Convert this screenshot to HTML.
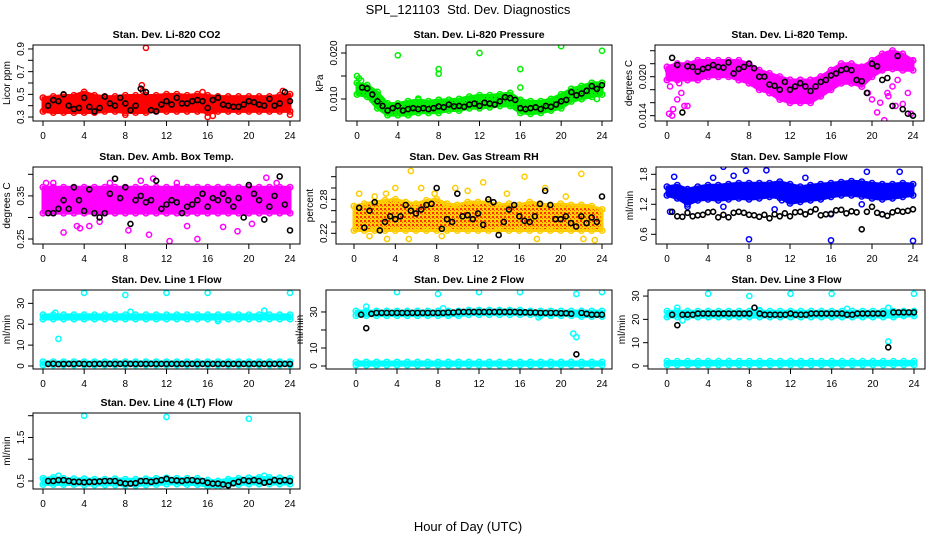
<!DOCTYPE html>
<html><head><meta charset="utf-8"><title>SPL_121103 Std. Dev. Diagnostics</title>
<style>
html,body{margin:0;padding:0;background:#fff;}
svg{display:block;font-family:"Liberation Sans",Arial,sans-serif;}
</style></head>
<body>
<svg id="chart" width="936" height="540" viewBox="0 0 936 540">
<defs>
<pattern id="pat-green" width="4" height="4" patternUnits="userSpaceOnUse"><rect width="4" height="4" fill="#00ee00"/><rect x="1" y="1" width="1" height="1" fill="#005500"/></pattern>
<pattern id="pat-rh" width="4" height="4" patternUnits="userSpaceOnUse"><rect width="4" height="4" fill="#ffd000"/><rect x="0" y="0" width="2" height="2" fill="#ff3000"/><rect x="2" y="2" width="1" height="1" fill="#ff5000"/></pattern>
</defs>
<text x="468" y="14" text-anchor="middle" font-size="13">SPL_121103&#160; Std. Dev. Diagnostics</text>
<text x="468" y="531" text-anchor="middle" font-size="13">Hour of Day (UTC)</text>
</svg>
<script>
const HOURS=[0.5,1,1.5,2,2.5,3,3.5,4,4.5,5,5.5,6,6.5,7,7.5,8,8.5,9,9.5,10,10.5,11,11.5,12,12.5,13,13.5,14,14.5,15,15.5,16,16.5,17,17.5,18,18.5,19,19.5,20,20.5,21,21.5,22,22.5,23,23.5,24];
const BAND_HOURS=[0,1,2,3,4,5,6,7,8,9,10,11,12,13,14,15,16,17,18,19,20,21,22,23,24];
const X_TICKS=[0,4,8,12,16,20,24];

// CO2
const CO2_LO=[0.35,0.34,0.34,0.34,0.34,0.34,0.35,0.35,0.34,0.34,0.34,0.35,0.35,0.35,0.35,0.35,0.34,0.35,0.35,0.35,0.35,0.35,0.35,0.35,0.35];
const CO2_HI=[0.47,0.48,0.49,0.49,0.52,0.49,0.48,0.48,0.49,0.49,0.49,0.49,0.50,0.50,0.49,0.50,0.49,0.48,0.48,0.48,0.48,0.48,0.48,0.49,0.50];
const CO2_OUT_X=[10,9.6,9.7,16,16.5,24,23.3,8,15.5];
const CO2_OUT_Y=[0.91,0.58,0.53,0.30,0.31,0.32,0.53,0.32,0.52];
const CO2_BLACK=[0.40,0.45,0.44,0.50,0.40,0.37,0.38,0.47,0.39,0.35,0.38,0.48,0.42,0.40,0.47,0.42,0.36,0.40,0.55,0.52,0.36,0.35,0.41,0.44,0.41,0.47,0.42,0.42,0.44,0.45,0.44,0.38,0.45,0.47,0.41,0.40,0.39,0.39,0.41,0.44,0.43,0.41,0.40,0.46,0.40,0.42,0.52,0.44];
const CO2_TICKS=[0.3,0.4,0.5,0.6,0.7,0.8,0.9];
const CO2_LABELS=["0.3","","0.5","","0.7","","0.9"];

// Pressure
const PR_LO=[0.0110,0.0105,0.0080,0.0065,0.0065,0.0065,0.0070,0.0070,0.0070,0.0075,0.0075,0.0080,0.0080,0.0082,0.0085,0.0085,0.0070,0.0068,0.0070,0.0075,0.0080,0.0095,0.0100,0.0105,0.0110];
const PR_HI=[0.0135,0.0130,0.0115,0.0090,0.0090,0.0095,0.0098,0.0095,0.0098,0.0098,0.0100,0.0105,0.0108,0.0108,0.0110,0.0113,0.0098,0.0095,0.0095,0.0100,0.0110,0.0122,0.0128,0.0135,0.0135];
const PR_OUT_X=[4,8,8,12,16,16,20,24,0,0.2,23.5,6,0.4];
const PR_OUT_Y=[0.0195,0.0165,0.0155,0.0200,0.0165,0.0125,0.0215,0.0205,0.0150,0.0145,0.0100,0.0101,0.0140];
const PR_BLACK=[0.0125,0.0123,0.0110,0.0095,0.0085,0.0075,0.0080,0.0085,0.0075,0.0078,0.0080,0.0078,0.0080,0.0078,0.0080,0.0084,0.0082,0.0088,0.0084,0.0085,0.0083,0.0088,0.0090,0.0085,0.0092,0.0090,0.0088,0.0095,0.0104,0.0102,0.0098,0.0080,0.0078,0.0080,0.0082,0.0078,0.0085,0.0083,0.0088,0.0095,0.0098,0.0115,0.0108,0.0112,0.0118,0.0128,0.0122,0.0130];
const PR_TICKS=[0.010,0.015,0.020];
const PR_LABELS=["0.010","","0.020"];

// Li-820 Temp
const TP_LO=[0.0195,0.0195,0.0195,0.0195,0.0200,0.0200,0.0200,0.0195,0.0190,0.0180,0.0175,0.0165,0.0160,0.0160,0.0160,0.0170,0.0180,0.0190,0.0190,0.0185,0.0200,0.0210,0.0212,0.0210,0.0210];
const TP_HI=[0.0215,0.0220,0.0220,0.0225,0.0225,0.0225,0.0225,0.0225,0.0220,0.0210,0.0205,0.0200,0.0195,0.0195,0.0195,0.0200,0.0210,0.0220,0.0220,0.0215,0.0225,0.0235,0.0240,0.0235,0.0225];
const TP_OUT_X=[0.2,0.3,0.6,1,1.4,1.7,2,0.5,20,20.5,20.8,21.2,21.5,21.6,22,22.3,23,23.5,23.8,24,19.6,22.5,0.1,1.2];
const TP_OUT_Y=[0.0143,0.0185,0.0150,0.0165,0.0175,0.0155,0.0155,0.0140,0.0165,0.0145,0.0160,0.0133,0.0175,0.0170,0.0185,0.0155,0.0158,0.0175,0.0143,0.0225,0.0175,0.0195,0.0210,0.0190];
const TP_BLACK=[0.0229,0.0218,0.0145,0.0216,0.0215,0.0208,0.0212,0.0214,0.0218,0.0215,0.0214,0.0222,0.0205,0.0212,0.0215,0.0220,0.0213,0.0200,0.0200,0.0188,0.0186,0.0180,0.0192,0.0180,0.0185,0.0190,0.0185,0.0178,0.0185,0.0192,0.0195,0.0202,0.0205,0.0210,0.0212,0.0210,0.0195,0.0193,0.0175,0.0220,0.0216,0.0195,0.0198,0.0155,0.0232,0.0150,0.0143,0.0140];
const TP_TICKS=[0.014,0.016,0.018,0.020,0.022,0.024];
const TP_LABELS=["0.014","","","0.020","",""];

// Amb box temp
const AB_LO=[0.31,0.31,0.31,0.31,0.31,0.31,0.31,0.31,0.31,0.31,0.31,0.31,0.31,0.31,0.31,0.31,0.31,0.31,0.31,0.31,0.31,0.31,0.31,0.31,0.31];
const AB_HI=[0.37,0.37,0.37,0.37,0.37,0.37,0.37,0.37,0.37,0.37,0.37,0.37,0.37,0.37,0.37,0.37,0.37,0.37,0.37,0.37,0.37,0.37,0.37,0.37,0.37];
const AB_OUT_X=[2,3.3,4.5,8.3,10.3,12.3,15,18.9,21.7,13,10.7,1,6.5,22.7,5.5,17.5,14,0.3,9.5,20.3,3.6];
const AB_OUT_Y=[0.265,0.28,0.28,0.27,0.26,0.245,0.25,0.268,0.392,0.38,0.39,0.38,0.38,0.38,0.29,0.278,0.28,0.38,0.385,0.285,0.275];
const AB_BLACK=[0.31,0.31,0.32,0.34,0.32,0.37,0.34,0.315,0.365,0.31,0.30,0.31,0.355,0.39,0.345,0.37,0.285,0.34,0.35,0.335,0.34,0.385,0.32,0.33,0.34,0.335,0.31,0.325,0.33,0.34,0.355,0.325,0.345,0.34,0.355,0.34,0.325,0.345,0.30,0.375,0.355,0.34,0.295,0.325,0.35,0.395,0.33,0.27];
const AB_TICKS=[0.25,0.30,0.35,0.40];
const AB_LABELS=["0.25","","0.35",""];

// RH
const RH_LO=[0.225,0.225,0.225,0.225,0.225,0.225,0.225,0.225,0.225,0.225,0.225,0.225,0.225,0.225,0.225,0.225,0.225,0.225,0.225,0.225,0.225,0.225,0.225,0.225,0.225];
const RH_HI=[0.268,0.272,0.275,0.278,0.280,0.275,0.272,0.278,0.280,0.272,0.270,0.275,0.275,0.275,0.270,0.272,0.270,0.275,0.272,0.270,0.272,0.270,0.270,0.268,0.262];
const RH_OUT_X=[5.5,16.5,22,12.5,4,3.1,0.5,6.5,1.5,3.2,5.3,8.5,17.7,22.2,23.3,18.5,14.8,11,9.8,7.8,2,20.5];
const RH_OUT_Y=[0.33,0.32,0.325,0.31,0.30,0.29,0.29,0.30,0.215,0.210,0.21,0.215,0.21,0.21,0.208,0.30,0.29,0.295,0.30,0.29,0.285,0.285];
const RH_BLACK=[0.265,0.230,0.260,0.275,0.225,0.240,0.250,0.245,0.250,0.270,0.260,0.255,0.262,0.270,0.272,0.300,0.228,0.245,0.240,0.290,0.250,0.252,0.245,0.255,0.235,0.280,0.275,0.217,0.240,0.262,0.270,0.250,0.242,0.240,0.250,0.272,0.295,0.270,0.245,0.245,0.250,0.238,0.232,0.250,0.238,0.248,0.240,0.285];
const RH_TICKS=[0.22,0.24,0.26,0.28,0.30,0.32];
const RH_LABELS=["0.22","","","0.28","",""];

// Sample flow
const SF_LO=[1.38,1.32,1.20,1.28,1.30,1.28,1.30,1.32,1.30,1.32,1.35,1.33,1.22,1.25,1.28,1.30,1.35,1.38,1.38,1.36,1.32,1.30,1.32,1.35,1.38];
const SF_HI=[1.55,1.58,1.50,1.55,1.58,1.58,1.60,1.62,1.62,1.62,1.62,1.65,1.60,1.55,1.58,1.60,1.62,1.64,1.66,1.65,1.62,1.60,1.60,1.62,1.60];
const SF_OUT_X=[5.5,9.7,7.7,22.7,19.5,0.7,6.5,8,16,24,0.3,16,21,10.5,2,5.5,19,4.5,13.5,11.2];
const SF_OUT_Y=[1.95,1.88,1.87,1.85,1.85,1.75,1.77,0.50,0.48,0.47,1.05,1.00,1.00,1.10,1.15,1.15,1.20,1.73,1.73,1.28];
const SF_BLACK=[1.05,0.96,0.95,1.03,0.96,0.98,0.99,1.04,1.05,0.94,0.99,0.94,1.03,1.05,1.03,0.99,0.98,0.95,0.99,0.92,1.00,0.96,1.02,0.96,1.04,1.05,1.00,1.05,1.10,0.98,1.00,1.01,1.08,1.09,1.02,1.06,1.04,0.70,1.05,1.15,1.03,1.00,0.97,1.04,1.07,1.05,1.07,1.10];
const SF_TICKS=[0.6,0.9,1.2,1.5,1.8];
const SF_LABELS=["0.6","","1.2","","1.8"];

// Line 1
const L1_LO=[22.5,22.5,22.5,22.5,22.5,22.5,22.5,22.5,22.5,22.5,22.5,22.5,22.5,22.5,22.5,22.5,22.5,22.5,22.5,22.5,22.5,22.5,22.5,22.5,22.5];
const L1_HI=[24.5,24.5,24.5,24.5,24.5,24.5,24.5,24.5,24.5,24.5,24.5,24.5,24.5,24.5,24.5,24.5,24.5,24.5,24.5,24.5,24.5,24.5,24.5,24.5,24.5];
const L1_LO2=[0.5,0.5,0.5,0.5,0.5,0.5,0.5,0.5,0.5,0.5,0.5,0.5,0.5,0.5,0.5,0.5,0.5,0.5,0.5,0.5,0.5,0.5,0.5,0.5,0.5];
const L1_HI2=[2,2,2,2,2,2,2,2,2,2,2,2,2,2,2,2,2,2,2,2,2,2,2,2,2];
const L1_OUT_X=[4,8,12,16,24,1.5,8.5,21.5,1.2,17];
const L1_OUT_Y=[35,34,35,35,35,13,26,26.5,25.5,21.5];
const L1_BLACK=[1.0,1.1,0.9,1.0,1.0,1.0,1.1,1.0,0.9,1.0,1.0,1.0,1.0,1.0,1.0,1.1,1.0,1.0,1.0,1.0,1.0,1.0,1.0,1.0,1.0,1.0,1.0,1.0,1.0,1.0,1.0,1.0,1.0,1.0,1.0,1.0,1.0,1.0,1.0,1.0,1.0,1.0,1.0,1.0,1.0,1.0,1.0,1.0];
const L1_TICKS=[0,10,20,30];
const L1_LABELS=["0","10","20","30"];

// Line 2
const L2_LO=[28,28,28,28,28,28,28,28,28,28,28,28.5,28.5,28.5,28.5,28.5,28.5,28.5,28,28,28,28,27.5,27.5,27.5];
const L2_HI=[30.5,30.5,30.5,30.5,30.5,30.5,30.5,30.5,30.5,30.5,30.5,31,31,31,31,31,31,30.5,30.5,30.5,30.5,30.5,30.5,30.5,30.5];
const L2_LO2=[0.5,0.5,0.5,0.5,0.5,0.5,0.5,0.5,0.5,0.5,0.5,0.5,0.5,0.5,0.5,0.5,0.5,0.5,0.5,0.5,0.5,0.5,0.5,0.5,0.5];
const L2_HI2=[2.2,2.2,2.2,2.2,2.2,2.2,2.2,2.2,2.2,2.2,2.2,2.2,2.2,2.2,2.2,2.2,2.2,2.2,2.2,2.2,2.2,2.2,2.2,2.2,2.2];
const L2_OUT_X=[4,8,12,16,24,21.5,21.5,1,8.5,0.5,21.2,17.8];
const L2_OUT_Y=[41,40,41,41,41,40,16,33,32,29,18,27];
const L2_BLACK=[28.5,21,29,29.5,29.5,29.5,29.5,29.5,29.5,29.5,29.5,29.5,29.5,29.5,29.5,29.5,29.5,29.7,29.7,30,30,30,30,30,30,30,30,30,30,30,30,29.8,29.8,29.7,29.7,29.5,29.5,29.5,29.5,29.3,29.3,29,6.5,29.5,29,28.5,28.5,28.5];
const L2_TICKS=[0,10,20,30];
const L2_LABELS=["0","10","","30"];

// Line 3
const L3_LO=[21,21,21,21,21,21,21,21,21,21,21,21,21,21,21,21,21,21,21,21,21,21,21,21.5,21.5];
const L3_HI=[23.5,23.5,23.5,23.5,23.5,23.5,23.5,23.5,23.5,23.5,23.5,23.5,23.5,23.5,23.5,23.5,23.5,23.5,23.5,23.5,23.5,23.5,23.5,23.5,23.5];
const L3_LO2=[0.5,0.5,0.5,0.5,0.5,0.5,0.5,0.5,0.5,0.5,0.5,0.5,0.5,0.5,0.5,0.5,0.5,0.5,0.5,0.5,0.5,0.5,0.5,0.5,0.5];
const L3_HI2=[2,2,2,2,2,2,2,2,2,2,2,2,2,2,2,2,2,2,2,2,2,2,2,2,2];
const L3_OUT_X=[4,8,12,16,24,21.5,1,17.5,21.5,1.5,9];
const L3_OUT_Y=[31,30,31,31,31,10.5,25,24.5,25,19.5,24];
const L3_BLACK=[22,17.5,22,22,22,22.5,22.5,22.5,22.5,22.5,22.5,22.5,22.5,22.5,22.5,22.5,25,22.5,22,22,22,22,22,22.5,22,22,22,22.5,22.5,22.5,22.5,22.5,22.5,22.5,22,22,22.5,22.5,22.5,22.5,22.5,22.5,8,23,23,23,23,23];
const L3_TICKS=[0,10,20,30];
const L3_LABELS=["0","10","20","30"];

// Line 4
const L4_LO=[0.42,0.42,0.42,0.42,0.41,0.41,0.41,0.41,0.40,0.40,0.41,0.42,0.43,0.43,0.42,0.42,0.38,0.37,0.40,0.42,0.43,0.43,0.43,0.43,0.43];
const L4_HI=[0.56,0.58,0.56,0.55,0.55,0.54,0.54,0.55,0.54,0.54,0.55,0.56,0.57,0.56,0.56,0.56,0.52,0.50,0.54,0.56,0.57,0.58,0.58,0.57,0.56];
const L4_OUT_X=[4,12,20,1.5,21.5];
const L4_OUT_Y=[2.0,1.97,1.93,0.62,0.62];
const L4_BLACK=[0.50,0.50,0.52,0.52,0.50,0.48,0.48,0.47,0.48,0.48,0.49,0.50,0.50,0.50,0.46,0.44,0.44,0.45,0.50,0.50,0.48,0.50,0.52,0.55,0.52,0.51,0.50,0.52,0.52,0.50,0.50,0.46,0.44,0.44,0.42,0.40,0.45,0.48,0.52,0.50,0.52,0.50,0.46,0.48,0.52,0.50,0.52,0.50];
const L4_TICKS=[0.5,1.0,1.5,2.0];
const L4_LABELS=["0.5","","1.5",""];

const PANELS=[
 {id:"co2",title:"Stan. Dev. Li-820 CO2",ylab:"Licor ppm",box:[33,45,300,121],xr:[43,290],ylim:[0.265,0.935],ticks:CO2_TICKS,labels:CO2_LABELS,col:"#ff0000",fill:"#ff0000",bands:[[CO2_LO,CO2_HI]],ox:CO2_OUT_X,oy:CO2_OUT_Y,black:CO2_BLACK},
 {id:"pressure",title:"Stan. Dev. Li-820 Pressure",ylab:"kPa",box:[346,45,612,121],xr:[357,602],ylim:[0.00522,0.02174],ticks:PR_TICKS,labels:PR_LABELS,col:"#00ee00",fill:"url(#pat-green)",bands:[[PR_LO,PR_HI]],ox:PR_OUT_X,oy:PR_OUT_Y,black:PR_BLACK},
 {id:"temp",title:"Stan. Dev. Li-820 Temp.",ylab:"degrees C",box:[655,45,924,121],xr:[667,913],ylim:[0.01318,0.02488],ticks:TP_TICKS,labels:TP_LABELS,col:"#ff00ff",fill:"#ff00ff",bands:[[TP_LO,TP_HI]],ox:TP_OUT_X,oy:TP_OUT_Y,black:TP_BLACK},
 {id:"amb-box-temp",title:"Stan. Dev. Amb. Box Temp.",ylab:"degrees C",box:[33,167,300,244],xr:[43,290],ylim:[0.2384,0.417],ticks:AB_TICKS,labels:AB_LABELS,col:"#ff00ff",fill:"#ff00ff",bands:[[AB_LO,AB_HI]],ox:AB_OUT_X,oy:AB_OUT_Y,black:AB_BLACK},
 {id:"gas-rh",title:"Stan. Dev. Gas Stream RH",ylab:"percent",box:[336,167,612,244],xr:[354,602],ylim:[0.2011,0.3371],ticks:RH_TICKS,labels:RH_LABELS,col:"#ffcc00",fill:"url(#pat-rh)",bands:[[RH_LO,RH_HI]],ox:RH_OUT_X,oy:RH_OUT_Y,black:RH_BLACK},
 {id:"sample-flow",title:"Stan. Dev. Sample Flow",ylab:"ml/min",box:[656,167,922,244],xr:[667,913],ylim:[0.406,1.946],ticks:SF_TICKS,labels:SF_LABELS,col:"#0000ff",fill:"#0000ff",bands:[[SF_LO,SF_HI]],ox:SF_OUT_X,oy:SF_OUT_Y,black:SF_BLACK},
 {id:"line1-flow",title:"Stan. Dev. Line 1 Flow",ylab:"ml/min",box:[33,290,300,369],xr:[43,290],ylim:[-1.44,36.4],ticks:L1_TICKS,labels:L1_LABELS,col:"#00ffff",fill:"#00ffff",bands:[[L1_LO,L1_HI],[L1_LO2,L1_HI2]],ox:L1_OUT_X,oy:L1_OUT_Y,black:L1_BLACK},
 {id:"line2-flow",title:"Stan. Dev. Line 2 Flow",ylab:"ml/min",box:[326,290,612,369],xr:[356,602],ylim:[-1.67,42.2],ticks:L2_TICKS,labels:L2_LABELS,col:"#00ffff",fill:"#00ffff",bands:[[L2_LO,L2_HI],[L2_LO2,L2_HI2]],ox:L2_OUT_X,oy:L2_OUT_Y,black:L2_BLACK},
 {id:"line3-flow",title:"Stan. Dev. Line 3 Flow",ylab:"ml/min",box:[648,290,925,369],xr:[667,914],ylim:[-1.29,32.6],ticks:L3_TICKS,labels:L3_LABELS,col:"#00ffff",fill:"#00ffff",bands:[[L3_LO,L3_HI],[L3_LO2,L3_HI2]],ox:L3_OUT_X,oy:L3_OUT_Y,black:L3_BLACK},
 {id:"line4-flow",title:"Stan. Dev. Line 4 (LT) Flow",ylab:"ml/min",box:[33,413,300,489],xr:[43,290],ylim:[0.316,2.062],ticks:L4_TICKS,labels:L4_LABELS,col:"#00ffff",fill:"#00ffff",bands:[[L4_LO,L4_HI]],ox:L4_OUT_X,oy:L4_OUT_Y,black:L4_BLACK}
];

const NS="http://www.w3.org/2000/svg";
const svg=document.getElementById("chart");
function mk(tag,attrs,parent){const e=document.createElementNS(NS,tag);for(const k in attrs)e.setAttribute(k,attrs[k]);(parent||svg).appendChild(e);return e;}

PANELS.forEach(p=>{
  const [L,T,R,B]=p.box;
  const xs=h=>p.xr[0]+(p.xr[1]-p.xr[0])*h/24;
  const ys=v=>B-(v-p.ylim[0])/(p.ylim[1]-p.ylim[0])*(B-T);
  const g=mk("g",{});
  
  
  const clipId="clip-"+p.id;
  const cp=mk("clipPath",{id:clipId},g);
  mk("rect",{x:L,y:T,width:R-L,height:B-T},cp);
  const plot=mk("g",{"clip-path":"url(#"+clipId+")"},g);
  
  
  p.bands.forEach((bd,bi)=>{
    const lo=bd[0],hi=bd[1];
    let pts=[];
    BAND_HOURS.forEach((h,i)=>pts.push(xs(h)+","+ys(hi[i])));
    for(let i=BAND_HOURS.length-1;i>=0;i--)pts.push(xs(BAND_HOURS[i])+","+ys(lo[i]));
    const poly=mk("polygon",{points:pts.join(" "),fill:p.fill,stroke:p.col,"stroke-width":3,"stroke-linejoin":"round"},plot);
    
    
    BAND_HOURS.forEach((h,i)=>{
      [lo[i],hi[i]].forEach(v=>{
        const c=mk("circle",{cx:xs(h),cy:ys(v),r:2.8,fill:"none",stroke:p.col,"stroke-width":1.5},plot);
        
        
      });
    });
  });
  p.ox.forEach((h,i)=>{
    const c=mk("circle",{cx:xs(h),cy:ys(p.oy[i]),r:2.6,fill:"none",stroke:p.col,"stroke-width":1.5},plot);
    
    
  });
  p.black.forEach((v,i)=>{
    const c=mk("circle",{cx:xs(HOURS[i]),cy:ys(v),r:2.5,fill:"none",stroke:"#000","stroke-width":1.6},plot);
    
    
  });
  const bx=mk("rect",{x:L,y:T,width:R-L,height:B-T,fill:"none",stroke:"#000","stroke-width":1},g);
  
  
  X_TICKS.forEach(t=>{
    mk("line",{x1:xs(t),x2:xs(t),y1:B,y2:B+5,stroke:"#000","stroke-width":1},g);
    const tx=mk("text",{x:xs(t),y:B+18,"text-anchor":"middle","font-size":10},g);
    tx.textContent=String(t);
    
    
  });
  p.ticks.forEach((t,i)=>{
    const y=ys(t);
    mk("line",{x1:L-5,x2:L,y1:y,y2:y,stroke:"#000","stroke-width":1},g);
    if(p.labels[i]){
      const tx=mk("text",{x:L-9,y:y,"text-anchor":"middle","font-size":10,transform:"rotate(-90 "+(L-9)+" "+y+")"},g);
      tx.textContent=p.labels[i];
      
      
    }
  });
  const ym=(T+B)/2;
  const yl=mk("text",{x:L-23,y:ym,"text-anchor":"middle","font-size":10,transform:"rotate(-90 "+(L-23)+" "+ym+")"},g);
  yl.textContent=p.ylab;
  
  
  const tt=mk("text",{x:(L+R)/2,y:T-7,"text-anchor":"middle","font-size":10.5,"font-weight":"bold"},g);
  tt.textContent=p.title;
  
  
});
</script>
</body></html>
